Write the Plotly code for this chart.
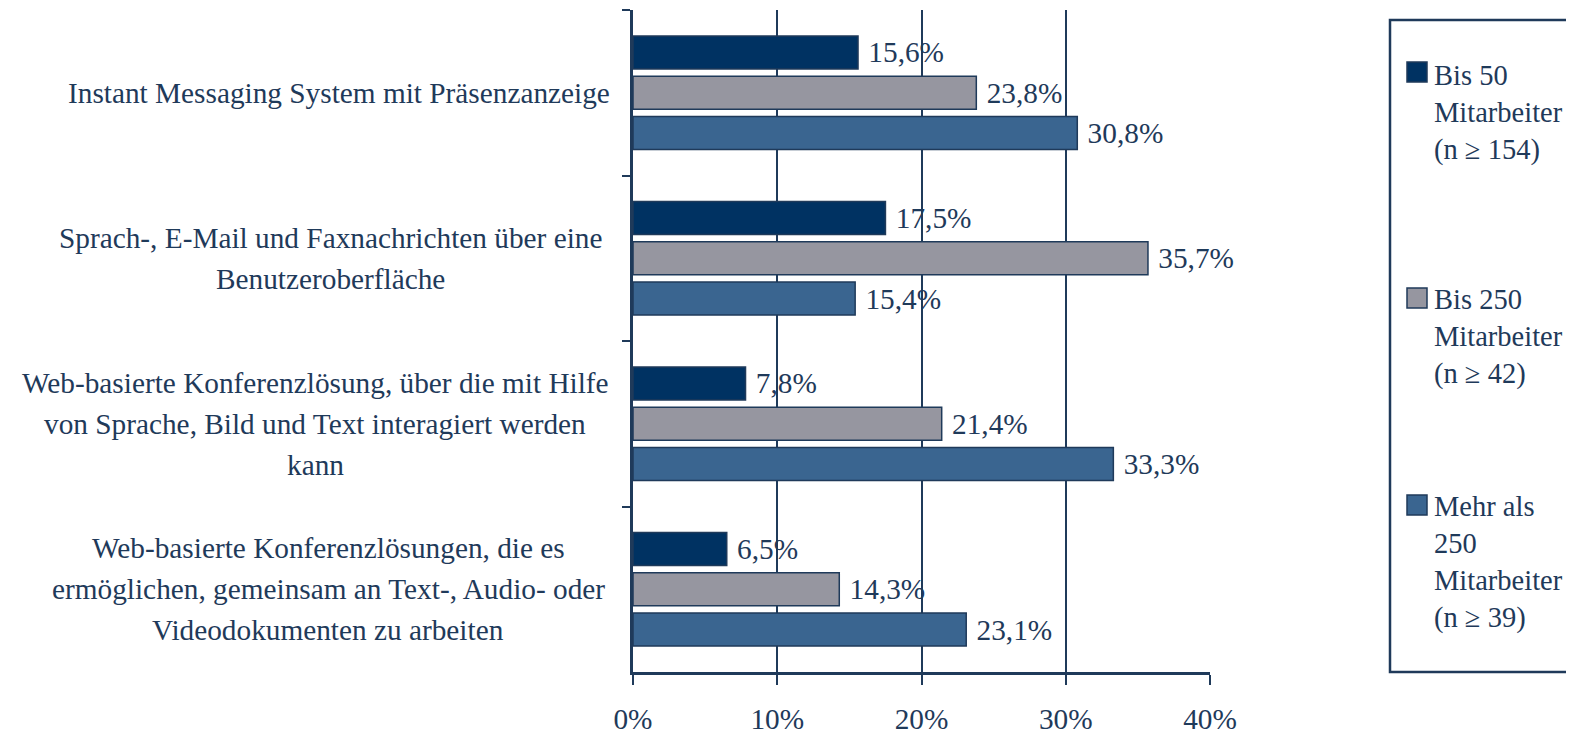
import plotly.graph_objects as go

cat_lines = [
    ["Instant Messaging System mit Präsenzanzeige"],
    ["Sprach-, E-Mail und Faxnachrichten über eine", "Benutzeroberfläche"],
    ["Web-basierte Konferenzlösung, über die mit Hilfe",
     "von Sprache, Bild und Text interagiert werden", "kann"],
    ["Web-basierte Konferenzlösungen, die es",
     "ermöglichen, gemeinsam an Text-, Audio- oder", "Videodokumenten zu arbeiten"],
]
cat_ids = ["c1", "c2", "c3", "c4"]
series_names = [
    "Bis 50<br>Mitarbeiter<br>(n ≥ 154)",
    "Bis 250<br>Mitarbeiter<br>(n ≥ 42)",
    "Mehr als<br>250<br>Mitarbeiter<br>(n ≥ 39)",
]
bis50 = [15.6, 17.5, 7.8, 6.5]
bis250 = [23.8, 35.7, 21.4, 14.3]
mehr250 = [30.8, 15.4, 33.3, 23.1]
x_ticks = [0, 10, 20, 30, 40]
x_tick_labels = ["0%", "10%", "20%", "30%", "40%"]

colors = ["#003262", "#9696a0", "#3a6590"]
ink = "#1f3a5a"
FONT = "Liberation Serif, Times New Roman, serif"
FS = 29.3

OFF = 8  # default body margin of the html page
W, H = 1574 - 2 * OFF, 735 - OFF
L, R, T, B = 633 - OFF, 1210 - OFF, 10 - OFF, 672 - OFF


def px(xr):
    return (xr - OFF - L) / (R - L)


def py(yr):
    return (B - (yr - OFF)) / (B - T)


fig = go.Figure()
for name, vals, col in zip(series_names, [bis50, bis250, mehr250], colors):
    fig.add_trace(go.Bar(
        y=cat_ids, x=vals, orientation="h", name=name,
        marker=dict(color=col, line=dict(color=ink, width=1.5)),
        texttemplate="\u00a0%{x:.1f}%", textposition="outside",
        textfont=dict(family=FONT, size=FS, color=ink),
        cliponaxis=False, showlegend=False,
    ))

annotations = []
label_centers = [339, 330, 315, 328]  # reference x of each label block centre
LINE = 41
for cid, lines, xc in zip(cat_ids, cat_lines, label_centers):
    n = len(lines)
    for i, ln in enumerate(lines):
        annotations.append(dict(
            x=px(xc), xref="paper", y=cid, yref="y", xanchor="center", yanchor="middle",
            yshift=-(i - (n - 1) / 2) * LINE, text=ln, showarrow=False,
            font=dict(family=FONT, size=FS, color=ink),
        ))

shapes = [dict(type="rect", xref="paper", yref="paper",
               x0=px(1390), x1=px(1640), y0=py(672), y1=py(20),
               line=dict(color=ink, width=2.5), fillcolor="rgba(0,0,0,0)", layer="above")]

leg_sq = [(62, 82), (288, 308), (495, 515)]
leg_txt_center = [113, 337, 562]
for (t0, t1), yc, name, col in zip(leg_sq, leg_txt_center, series_names, colors):
    shapes.append(dict(type="rect", xref="paper", yref="paper",
                       x0=px(1407), x1=px(1427), y0=py(t1), y1=py(t0),
                       fillcolor=col, line=dict(color=ink, width=1.5)))
    annotations.append(dict(
        x=px(1432), xref="paper", y=py(yc), yref="paper", xanchor="left", yanchor="middle",
        text=name, align="left", showarrow=False,
        font=dict(family=FONT, size=28.5, color=ink),
    ))

fig.update_layout(
    width=W, height=H,
    margin=dict(l=L, r=W - R, t=T, b=H - B, autoexpand=False),
    paper_bgcolor="white", plot_bgcolor="white",
    barmode="group", bargap=0.27, bargroupgap=0.18,
    separators=",.",
    showlegend=False,
    font=dict(family=FONT, size=FS, color=ink),
    xaxis=dict(
        range=[0, 40], tickmode="array", tickvals=x_ticks, ticktext=x_tick_labels,
        showgrid=True, gridcolor=ink, gridwidth=1.8,
        showline=True, linecolor=ink, linewidth=2.5,
        ticks="outside", ticklen=10, tickwidth=2, tickcolor=ink,
        ticklabelstandoff=9, zeroline=False,
        tickfont=dict(family=FONT, size=FS, color=ink),
    ),
    yaxis=dict(
        type="category", categoryorder="array", categoryarray=cat_ids,
        autorange="reversed", showticklabels=False,
        tickson="boundaries", ticks="outside", ticklen=8, tickwidth=2, tickcolor=ink,
        showline=True, linecolor=ink, linewidth=2.5, showgrid=False, zeroline=False,
    ),
    annotations=annotations, shapes=shapes,
)

fig.write_html("out.html")
